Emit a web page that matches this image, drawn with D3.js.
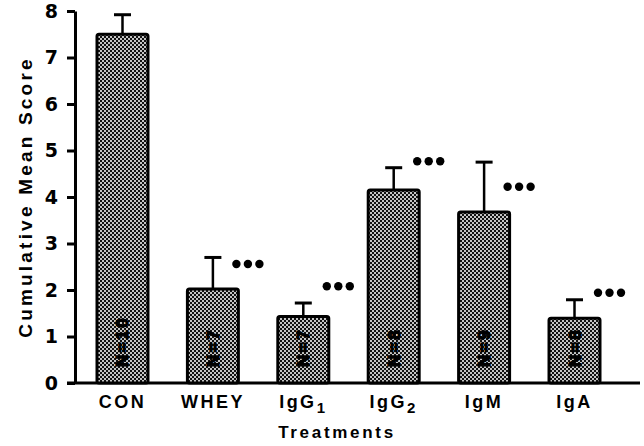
<!DOCTYPE html>
<html>
<head>
<meta charset="utf-8">
<script src="https://cdn.jsdelivr.net/npm/d3@7"></script>
<style>
  body { margin: 0; background: #fff; }
  text { font-family: "Liberation Sans", Arial, sans-serif; font-weight: bold; }
</style>
</head>
<body>
<div id="chart"></div>
<script>
// treatments and cumulative mean scores
const categories = ["CON", "WHEY", "IgG1", "IgG2", "IgM", "IgA"]
const means = [7.5, 2.02, 1.43, 4.15, 3.68, 1.39]
const errors = [0.42, 0.68, 0.29, 0.48, 1.07, 0.4]
const nLabels = ["N=10", "N=7", "N=7", "N=8", "N=9", "N=8"]
const starLevel = [null, 2.56, 2.08, 4.77, 4.22, 1.94]   // where the *** sit, in score units
const yTicks = [0, 1, 2, 3, 4, 5, 6, 7, 8]

const W = 644, H = 446
const margin = { top: 11, right: 4, bottom: 63, left: 75 }

const svg = d3.select("#chart").append("svg")
    .attr("width", W)
    .attr("height", H)

// halftone-ish fill for the bars
const defs = svg.append("defs")
const pat = defs.append("pattern")
    .attr("id", "dots")
    .attr("width", 4).attr("height", 4)
    .attr("patternUnits", "userSpaceOnUse")
pat.append("rect").attr("width", 4).attr("height", 4).attr("fill", "#c4c4c4")
pat.append("rect").attr("width", 2).attr("height", 2).attr("fill", "#111")
pat.append("rect").attr("x", 2).attr("y", 2).attr("width", 2).attr("height", 2).attr("fill", "#111")

const y = d3.scaleLinear()
    .domain([0, 8])
    .range([H - margin.bottom, margin.top])

const x = d3.scaleBand()
    .domain(categories)
    .range([97, 600])
    .paddingInner(0.436)
    .paddingOuter(0)

// y axis
const yAxis = svg.append("g")
    .attr("transform", "translate(" + margin.left + ",0)")
    .call(d3.axisLeft(y).tickValues(yTicks).tickSize(8).tickSizeOuter(0).tickPadding(9))
yAxis.select(".domain").attr("stroke-width", 3)
yAxis.selectAll(".tick line").attr("stroke-width", 3)
yAxis.selectAll(".tick text")
    .attr("font-size", 19)
    .style("font-family", "'DejaVu Sans', sans-serif")
    .attr("fill", "#000")

// baseline
svg.append("line")
    .attr("x1", margin.left - 8).attr("x2", W - margin.right)
    .attr("y1", y(0)).attr("y2", y(0))
    .attr("stroke", "#000").attr("stroke-width", 3)

const rows = categories.map((c, i) => ({
    cat: c, mean: means[i], err: errors[i], n: nLabels[i], star: starLevel[i]
}))

const g = svg.selectAll(".bar")
    .data(rows)
    .enter().append("g")
    .attr("class", "bar")

// error bars (drawn first so the bar outline covers the stem foot)
g.append("line")
    .attr("x1", d => x(d.cat) + x.bandwidth() / 2)
    .attr("x2", d => x(d.cat) + x.bandwidth() / 2)
    .attr("y1", d => y(d.mean))
    .attr("y2", d => y(d.mean + d.err))
    .attr("stroke", "#000").attr("stroke-width", 2.5)
g.append("line")
    .attr("x1", d => x(d.cat) + x.bandwidth() / 2 - 8.5)
    .attr("x2", d => x(d.cat) + x.bandwidth() / 2 + 8.5)
    .attr("y1", d => y(d.mean + d.err))
    .attr("y2", d => y(d.mean + d.err))
    .attr("stroke", "#000").attr("stroke-width", 3)

g.append("rect")
    .attr("x", d => x(d.cat))
    .attr("y", d => y(d.mean))
    .attr("width", x.bandwidth())
    .attr("height", d => y(0) - y(d.mean))
    .attr("rx", 2)
    .attr("fill", "url(#dots)")
    .attr("stroke", "#000")
    .attr("stroke-width", 3)

// N labels, rotated inside the bars
g.append("text")
    .text(d => d.n)
    .attr("transform", d => "translate(" + (x(d.cat) + x.bandwidth() / 2 + 6) + "," + (y(0) - 16) + ") rotate(-90)")
    .attr("font-size", 17)
    .attr("letter-spacing", 2.5)
    .attr("fill", "#000")
    .attr("stroke", "#000")
    .attr("stroke-width", 1.2)

// significance stars
g.filter(d => d.star != null)
    .selectAll("circle")
    .data(d => [-11.5, 0, 11.5].map(o => ({ d: d, o: o })))
    .enter().append("circle")
    .attr("cx", s => x(s.d.cat) + x.bandwidth() / 2 + 35 + s.o)
    .attr("cy", s => y(s.d.star))
    .attr("r", 4.2)
    .attr("fill", "#000")

// category labels with subscripts
const lab = svg.selectAll(".xlab")
    .data(categories)
    .enter().append("text")
    .attr("class", "xlab")
    .attr("x", d => x(d) + x.bandwidth() / 2)
    .attr("y", 408)
    .attr("text-anchor", "middle")
    .attr("font-size", 18)
    .attr("letter-spacing", 2.5)
lab.each(function (d) {
    const t = d3.select(this)
    const m = d.match(/^(IgG)(\d)$/)
    if (m) {
        t.append("tspan").text(m[1])
        t.append("tspan").text(m[2]).attr("font-size", 15).attr("dy", 5)
    } else {
        t.text(d)
    }
})

svg.append("text")
    .attr("x", 337)
    .attr("y", 438)
    .attr("text-anchor", "middle")
    .attr("font-size", 17)
    .attr("letter-spacing", 2.7)
    .text("Treatments")

svg.append("text")
    .attr("transform", "translate(32," + 197 + ") rotate(-90)")
    .attr("text-anchor", "middle")
    .attr("font-size", 19)
    .attr("letter-spacing", 3.2)
    .text("Cumulative Mean Score")
</script>
</body>
</html>
